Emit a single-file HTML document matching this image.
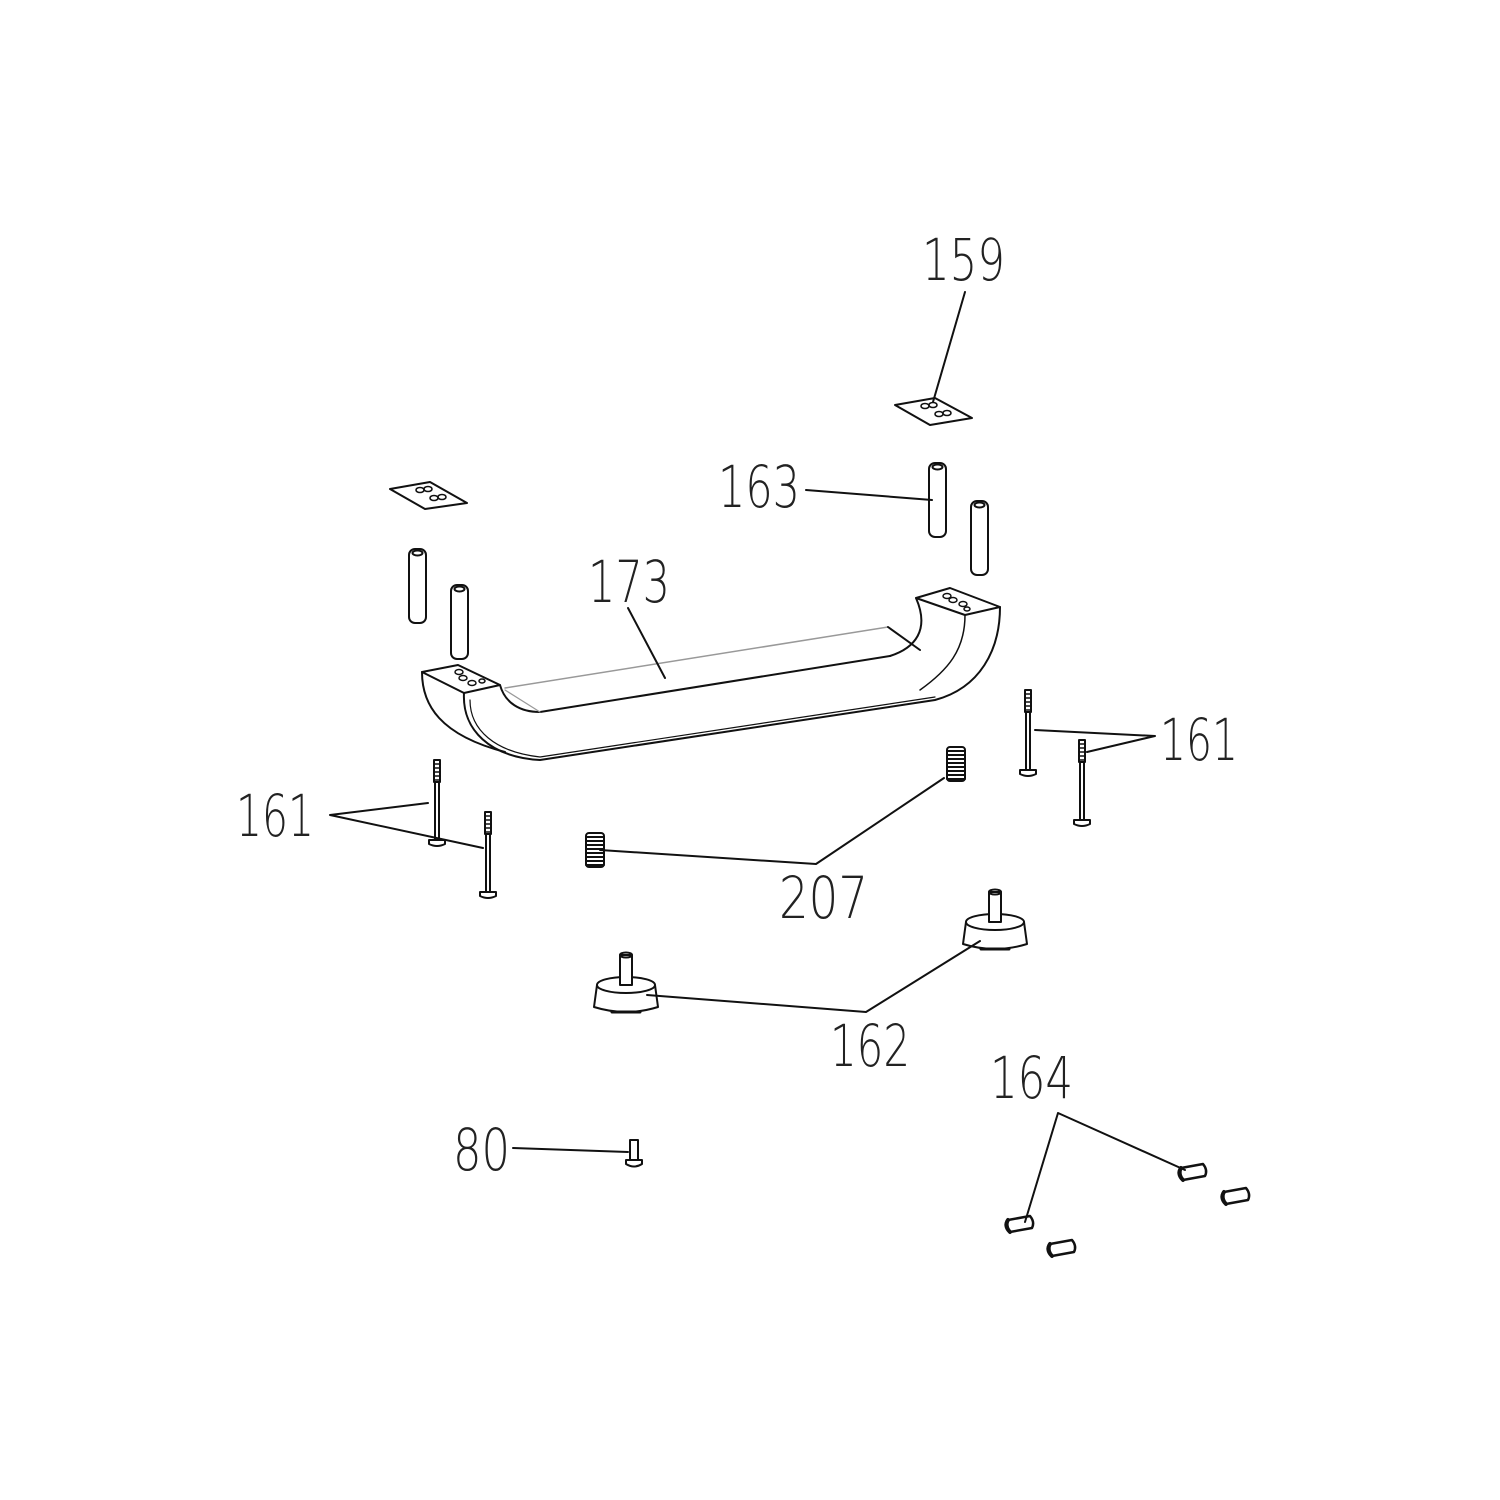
<!DOCTYPE html>
<html><head><meta charset="utf-8"><style>
html,body{margin:0;padding:0;background:#fff;width:1500px;height:1500px;overflow:hidden}
svg text{font-family:"DejaVu Sans","Liberation Sans",sans-serif;font-weight:200;font-size:58px;fill:#222}
</style></head><body>
<svg width="1500" height="1500" viewBox="0 0 1500 1500" xmlns="http://www.w3.org/2000/svg" fill="none" stroke="#111" stroke-width="2" stroke-linecap="round" stroke-linejoin="round">
<defs>
<g id="pin"><rect x="0" y="0" width="17" height="74" rx="6" fill="#fff"/><ellipse cx="8.5" cy="4" rx="5" ry="2.5"/></g>
<g id="screw"><line x1="-2" y1="8" x2="-2" y2="80"/><line x1="2" y1="8" x2="2" y2="80"/><path d="M-3,0 L3,0 L3,22 L-3,22 Z" fill="#fff"/><path d="M-3,4h6M-3,8h6M-3,12h6M-3,16h6M-3,20h6" stroke-width="1.5"/><path d="M-8,80 L8,80 L8,84 Q0,88 -8,84 Z" fill="#fff"/></g>
<g id="spring"><rect x="-9" y="0" width="18" height="34" rx="3" fill="#fff"/><path d="M-9,4h18M-9,8h18M-9,12h18M-9,16h18M-9,20h18M-9,24h18M-9,28h18M-9,32h18" stroke-width="2"/></g>
<g id="foot"><path d="M-29,2 L-32,24 Q0,34 32,24 L29,2" fill="#fff"/><ellipse cx="0" cy="2" rx="29" ry="8" fill="#fff"/><rect x="-6" y="-28" width="12" height="30" fill="#fff"/><ellipse cx="0" cy="-28" rx="6" ry="2.5"/><path d="M-14,29h28" stroke-width="3"/></g>
<g id="cyl"><path d="M0,0 L22,-4 Q27,2 24,8 L2,12 Q-2,6 0,0 Z" fill="#fff" stroke-width="2.5"/><path d="M0,0 Q-4,6 2,12" stroke-width="4"/></g>
</defs>
<!-- plates -->
<path d="M390,489 L430,482 L467,503 L425,509 Z"/>
<g stroke-width="1.6"><ellipse cx="420" cy="490" rx="4" ry="2.5"/><ellipse cx="428" cy="489" rx="4" ry="2.5"/><ellipse cx="434" cy="498" rx="4" ry="2.5"/><ellipse cx="442" cy="497" rx="4" ry="2.5"/></g>
<path d="M895,405 L935,398 L972,418 L930,425 Z"/>
<g stroke-width="1.6"><ellipse cx="925" cy="406" rx="4" ry="2.5"/><ellipse cx="933" cy="405" rx="4" ry="2.5"/><ellipse cx="939" cy="414" rx="4" ry="2.5"/><ellipse cx="947" cy="413" rx="4" ry="2.5"/></g>
<!-- pins -->
<use href="#pin" x="409" y="549"/><use href="#pin" x="451" y="585"/>
<use href="#pin" x="929" y="463"/><use href="#pin" x="971" y="501"/>
<!-- handle -->
<path d="M422,672 C422,705 440,735 505,752" />
<path d="M422,672 L458,665 L500,685 L464,693 Z" fill="#fff"/>
<g stroke-width="1.5"><ellipse cx="459" cy="672" rx="4" ry="2.5"/><ellipse cx="463" cy="678" rx="4" ry="2.5"/><ellipse cx="472" cy="683" rx="4" ry="2.5"/><ellipse cx="482" cy="681" rx="3" ry="2"/></g>
<path d="M464,693 C462,730 490,757 540,760 L935,700 C980,688 1000,650 1000,607"/>
<path d="M470,700 C470,730 495,752 540,757 L935,697" stroke-width="1.2"/>
<path d="M500,685 C505,703 520,712 540,712 L890,656"/>
<path d="M505,688 L888,627" stroke="#999" stroke-width="1.5"/>
<path d="M505,690 L540,712" stroke="#999" stroke-width="1.2"/>
<path d="M888,627 L920,650"/>
<path d="M890,656 C915,648 930,630 916,598"/>
<path d="M916,598 L950,588 L1000,607 L965,615 Z" fill="#fff"/>
<g stroke-width="1.5"><ellipse cx="947" cy="596" rx="4" ry="2.5"/><ellipse cx="953" cy="600" rx="4" ry="2.5"/><ellipse cx="963" cy="604" rx="4" ry="2.5"/><ellipse cx="967" cy="609" rx="3" ry="2"/></g>
<path d="M965,615 C965,650 948,670 920,690" stroke-width="1.5"/>
<!-- screws 161 -->
<use href="#screw" x="437" y="760"/><use href="#screw" x="488" y="812"/>
<use href="#screw" x="1028" y="690"/><use href="#screw" x="1082" y="740"/>
<!-- springs 207 -->
<use href="#spring" x="595" y="833"/><use href="#spring" x="956" y="747"/>
<!-- feet 162 -->
<use href="#foot" x="626" y="983"/><use href="#foot" x="995" y="920"/>
<!-- 80 -->
<rect x="630" y="1140" width="8" height="20" fill="#fff"/><path d="M626,1160 h16 v4 q-8,5 -16,0 z" fill="#fff"/>
<!-- 164 -->
<use href="#cyl" x="1008" y="1220"/><use href="#cyl" x="1050" y="1244"/>
<use href="#cyl" x="1181" y="1168"/><use href="#cyl" x="1224" y="1192"/>
<!-- leaders -->
<g stroke-width="2">
<path d="M965,292 L933,402"/>
<path d="M806,490 L932,500"/>
<path d="M628,608 L665,678"/>
<path d="M1155,736 L1035,730 M1155,736 L1087,752"/>
<path d="M330,815 L428,803 M330,815 L483,848"/>
<path d="M600,850 L816,864 L944,778"/>
<path d="M647,995 L866,1012 L980,941"/>
<path d="M1058,1113 L1025,1222 M1058,1113 L1185,1170"/>
<path d="M513,1148 L628,1152"/>
</g>
<g stroke="none">
<text x="922" y="280" textLength="83" lengthAdjust="spacingAndGlyphs">159</text>
<text x="718" y="507" textLength="82" lengthAdjust="spacingAndGlyphs">163</text>
<text x="588" y="602" textLength="82" lengthAdjust="spacingAndGlyphs">173</text>
<text x="1160" y="760" textLength="78" lengthAdjust="spacingAndGlyphs">161</text>
<text x="236" y="836" textLength="78" lengthAdjust="spacingAndGlyphs">161</text>
<text x="779" y="918" textLength="89" lengthAdjust="spacingAndGlyphs">207</text>
<text x="830" y="1066" textLength="80" lengthAdjust="spacingAndGlyphs">162</text>
<text x="990" y="1098" textLength="83" lengthAdjust="spacingAndGlyphs">164</text>
<text x="453" y="1170" textLength="57" lengthAdjust="spacingAndGlyphs">80</text>
</g>
</svg>
</body></html>
